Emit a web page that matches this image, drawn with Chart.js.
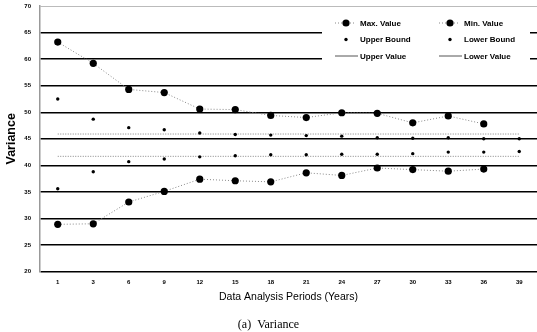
<!DOCTYPE html>
<html>
<head>
<meta charset="utf-8">
<script src="https://cdn.jsdelivr.net/npm/chart.js@4"></script>
<style>
    html, body { margin: 0; padding: 0; background: #fff; }
    #wrap { width: 537px; height: 332px; }
</style>
</head>
<body>
<div id="wrap"><canvas id="variance"></canvas></div>
<script>
    // analysis periods (years)
    const periods = ["1", "3", "6", "9", "12", "15", "18", "21", "24", "27", "30", "33", "36", "39"];

    // values
    const maxValue   = [63.2, 59.2, 54.3, 53.7, 50.6, 50.5, 49.4, 49.0, 49.9, 49.8, 48.0, 49.3, 47.8, null];
    const minValue   = [28.9, 29.0, 33.1, 35.1, 37.4, 37.1, 36.9, 38.6, 38.1, 39.5, 39.2, 38.9, 39.3, null];
    const upperBound = [52.5, 48.7, 47.1, 46.7, 46.1, 45.8, 45.7, 45.6, 45.5, 45.2, 45.1, 45.2, 45.0, 45.0];
    const lowerBound = [35.6, 38.8, 40.7, 41.2, 41.6, 41.8, 42.0, 42.0, 42.1, 42.1, 42.2, 42.5, 42.5, 42.6];
    const upperValue = [45.9, 45.9, 45.9, 45.9, 45.9, 45.9, 45.9, 45.9, 45.9, 45.9, 45.9, 45.9, 45.9, 45.9];
    const lowerValue = [41.7, 41.7, 41.7, 41.7, 41.7, 41.7, 41.7, 41.7, 41.7, 41.7, 41.7, 41.7, 41.7, 41.7];

    const font = "'Liberation Sans', Arial, sans-serif";

    // legend drawn inside the plot, two columns
    const boxLegend = {
        id: "boxLegend",
        afterDatasetsDraw(chart) {
            const ctx = chart.ctx;
            ctx.save();
            ctx.fillStyle = "#fff";
            ctx.fillRect(322, 12, 208, 52);
            const cols = [346, 450];
            const rows = [23, 39.5, 56];
            ctx.font = "bold 8px " + font;
            ctx.textBaseline = "middle";
            chart.data.datasets.forEach(function (ds, i) {
                const cx = cols[i % 2];
                const cy = rows[Math.floor(i / 2)];
                ctx.strokeStyle = ds.borderColor;
                ctx.lineWidth = 1;
                if (ds.kind === "dots") {
                    ctx.setLineDash([1, 2]);
                    ctx.beginPath();
                    ctx.moveTo(cx - 11, cy);
                    ctx.lineTo(cx + 10, cy);
                    ctx.stroke();
                }
                if (ds.kind === "flat") {
                    ctx.setLineDash([]);
                    ctx.strokeStyle = "#555";
                    ctx.beginPath();
                    ctx.moveTo(cx - 11, cy);
                    ctx.lineTo(cx + 12, cy);
                    ctx.stroke();
                }
                if (ds.pointRadius > 0) {
                    ctx.fillStyle = "#000";
                    ctx.beginPath();
                    ctx.arc(cx, cy, ds.pointRadius, 0, Math.PI * 2);
                    ctx.fill();
                }
                ctx.fillStyle = "#000";
                ctx.fillText(ds.label, cx + 14, cy + 0.5);
            });
            ctx.restore();
        }
    };

    new Chart("variance", {
        type: "line",
        data: {
            labels: periods,
            datasets: [
                { label: "Max. Value", kind: "dots", data: maxValue, borderColor: "#888", borderWidth: 1, borderDash: [1, 2],
                  pointRadius: 3.6, pointBackgroundColor: "#000", pointBorderWidth: 0 },
                { label: "Min. Value", kind: "dots", data: minValue, borderColor: "#888", borderWidth: 1, borderDash: [1, 2],
                  pointRadius: 3.6, pointBackgroundColor: "#000", pointBorderWidth: 0 },
                { label: "Upper Bound", kind: "point", data: upperBound, showLine: false, borderColor: "#000",
                  pointRadius: 1.7, pointBackgroundColor: "#000", pointBorderWidth: 0 },
                { label: "Lower Bound", kind: "point", data: lowerBound, showLine: false, borderColor: "#000",
                  pointRadius: 1.7, pointBackgroundColor: "#000", pointBorderWidth: 0 },
                { label: "Upper Value", kind: "flat", data: upperValue, borderColor: "#666", borderWidth: 0.8, borderDash: [1, 1.5],
                  pointRadius: 0 },
                { label: "Lower Value", kind: "flat", data: lowerValue, borderColor: "#666", borderWidth: 0.8, borderDash: [1, 1.5],
                  pointRadius: 0 }
            ]
        },
        options: {
            responsive: true,
            maintainAspectRatio: false,
            animation: false,
            layout: { padding: 0, autoPadding: false },
            plugins: {
                legend: { display: false },
                tooltip: { enabled: false },
                title: {
                    display: true,
                    position: "bottom",
                    text: "(a)  Variance",
                    color: "#000",
                    font: { family: "'Liberation Serif', 'DejaVu Serif', serif", size: 12, weight: "normal" },
                    padding: { top: 14, bottom: 0 }
                }
            },
            scales: {
                x: {
                    offset: true,
                    afterFit: function (s) { s.height = 32; s.paddingLeft = 0; s.paddingRight = 0; },
                    grid: { display: false, drawTicks: false },
                    border: { display: false },
                    ticks: { color: "#000", padding: 7, maxRotation: 0, font: { family: font, size: 6, weight: "bold" } },
                    title: {
                        display: true,
                        text: "Data Analysis Periods (Years)",
                        color: "#000",
                        font: { family: font, size: 10.5 },
                        padding: { top: 0, bottom: 0 }
                    }
                },
                y: {
                    min: 20,
                    max: 70,
                    afterFit: function (s) { s.width = 40; s.paddingTop = 6; s.paddingBottom = 0; },
                    grid: {
                        drawTicks: false,
                        color: function (c) { return c.tick.value === 70 ? "#aaa" : "#000"; },
                        lineWidth: function (c) { return c.tick.value === 70 ? 0.8 : 1.4; }
                    },
                    border: { display: true, color: "#999", width: 1.5 },
                    ticks: { stepSize: 5, color: "#000", padding: 9, font: { family: font, size: 6, weight: "bold" } },
                    title: {
                        display: true,
                        text: "Variance",
                        color: "#000",
                        font: { family: font, size: 12.5, weight: "bold" },
                        padding: { top: 4, bottom: 0 }
                    }
                }
            }
        },
        plugins: [boxLegend]
    });
</script>
</body>
</html>
